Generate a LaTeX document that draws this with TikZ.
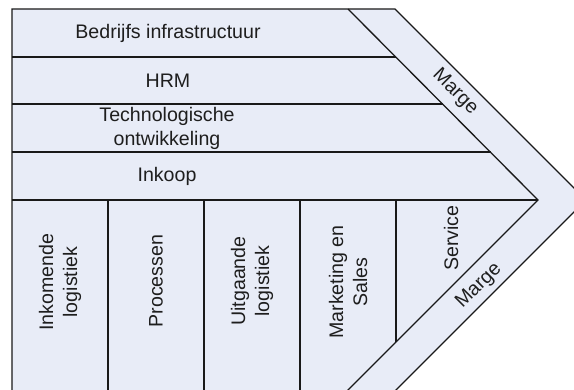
\documentclass[tikz,border=0pt]{standalone}
\usepackage{fontspec}
\setmainfont{Liberation Sans}
\definecolor{chainfill}{RGB}{232,236,247}
\definecolor{chainline}{RGB}{25,25,25}
\definecolor{chaintext}{RGB}{30,30,30}
\begin{document}
\begin{tikzpicture}[x=1pt,y=-1pt,
  edge/.style={draw=chainline,line width=1.3pt},
  lbl/.style={inner sep=0pt,align=center,text=chaintext,font=\fontsize{19.6}{24}\selectfont}]
\useasboundingbox (0,0) rectangle (574,389);
\clip (0,0) rectangle (574,389);
% outer shape
\coordinate (TL) at (12,9);
\coordinate (TR) at (395,9);
\coordinate (OT) at (586,200);
\coordinate (OB) at (375,411);
\coordinate (BL) at (12,411);
\coordinate (IT) at (348,9);
\coordinate (IP) at (538,200);
\coordinate (IB) at (327,411);
\fill[chainfill] (TL) -- (TR) -- (OT) -- (OB) -- (BL) -- cycle;
\draw[edge] (BL) -- (TL) -- (TR) -- (OT) -- (OB);
\draw[edge] (IT) -- (IP) -- (IB);
% support rows
\coordinate (h1a) at (12,57);  \coordinate (h1b) at (396,57);
\coordinate (h2a) at (12,104); \coordinate (h2b) at (443,104);
\coordinate (h3a) at (12,152); \coordinate (h3b) at (491,152);
\coordinate (h4a) at (12,200);
\draw[edge] (h1a) -- (h1b);
\draw[edge] (h2a) -- (h2b);
\draw[edge] (h3a) -- (h3b);
\draw[edge] (h4a) -- (IP);
% primary columns
\coordinate (v1a) at (108,200); \coordinate (v1b) at (108,411);
\coordinate (v2a) at (204,200); \coordinate (v2b) at (204,411);
\coordinate (v3a) at (300,200); \coordinate (v3b) at (300,411);
\coordinate (v4a) at (396,200); \coordinate (v4b) at (396,342);
\draw[edge] (v1a) -- (v1b);
\draw[edge] (v2a) -- (v2b);
\draw[edge] (v3a) -- (v3b);
\draw[edge] (v4a) -- (v4b);
% labels
\node[lbl] (infra) at (168,33) {Bedrijfs infrastructuur};
\node[lbl] (hrm) at (168,80.5) {HRM};
\node[lbl] (tech) at (167,128) {Technologische\\ontwikkeling};
\node[lbl] (inkoop) at (167,176) {Inkoop};
\node[lbl,rotate=90] (inlog) at (60,282) {Inkomende\\logistiek};
\node[lbl,rotate=90] (proc) at (156,281) {Processen};
\node[lbl,rotate=90] (uitlog) at (252,281) {Uitgaande\\logistiek};
\node[lbl,rotate=90] (mkt) at (348,282) {Marketing en\\Sales};
\node[lbl,rotate=90] (serv) at (451,238) {Service};
\node[lbl,rotate=-45] (marge1) at (455,92) {Marge};
\node[lbl,rotate=45] (marge2) at (479,286) {Marge};
\end{tikzpicture}
\end{document}
